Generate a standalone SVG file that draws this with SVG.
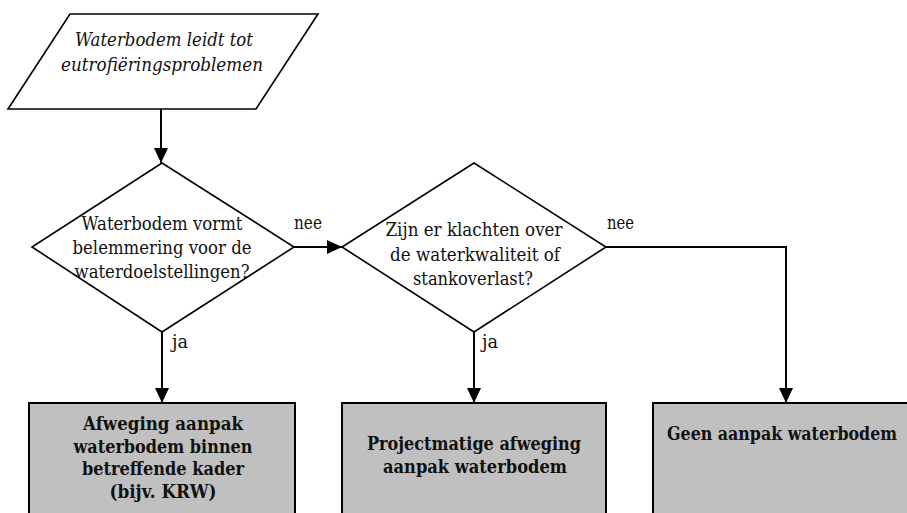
<svg xmlns="http://www.w3.org/2000/svg" width="907" height="513" viewBox="0 0 907 513">
  <style>
    .shape { fill: #ffffff; stroke: #000000; stroke-width: 1.6; }
    .box { fill: #c0c0c0; stroke: #000000; stroke-width: 2; }
    .edge { fill: none; stroke: #000000; stroke-width: 2; }
    text { font-family: "DejaVu Serif", "Liberation Serif", serif; font-size: 18px; fill: #111111; }
    .it { font-style: italic; }
    .bold { font-weight: bold; }
    .mid { text-anchor: middle; }
  </style>
  <defs>
    <marker id="arrow" markerUnits="userSpaceOnUse" markerWidth="16" markerHeight="16" refX="15" refY="7" orient="auto">
      <path d="M0,0 L15,7 L0,14 z" fill="#000000"/>
    </marker>
  </defs>

  <!-- connectors -->
  <g id="connectors">
    <line class="edge" x1="161" y1="109" x2="161" y2="163" marker-end="url(#arrow)"/>
    <line class="edge" x1="294" y1="247" x2="342" y2="247" marker-end="url(#arrow)"/>
    <line class="edge" x1="162" y1="332" x2="162" y2="403" marker-end="url(#arrow)"/>
    <line class="edge" x1="474" y1="332" x2="474" y2="403" marker-end="url(#arrow)"/>
    <polyline class="edge" points="606,247 786,247 786,403" marker-end="url(#arrow)"/>
    <text x="294" y="229" textLength="28" lengthAdjust="spacingAndGlyphs">nee</text>
    <text x="607" y="229" textLength="27" lengthAdjust="spacingAndGlyphs">nee</text>
    <text x="172" y="348" textLength="16" lengthAdjust="spacingAndGlyphs">ja</text>
    <text x="482" y="348" textLength="16" lengthAdjust="spacingAndGlyphs">ja</text>
  </g>

  <!-- start: input parallelogram -->
  <g id="start">
    <polygon class="shape" points="70,14 318,14 256,109 8,109"/>
    <text class="it mid" x="164" y="46" textLength="178" lengthAdjust="spacingAndGlyphs">Waterbodem leidt tot</text>
    <text class="it mid" x="162" y="71" textLength="202" lengthAdjust="spacingAndGlyphs">eutrofiëringsproblemen</text>
  </g>

  <!-- decision 1 -->
  <g id="decision1">
    <polygon class="shape" points="162,163 294,247 162,332 32,247"/>
    <text class="mid" x="162" y="230" textLength="161" lengthAdjust="spacingAndGlyphs">Waterbodem vormt</text>
    <text class="mid" x="162" y="254" textLength="179" lengthAdjust="spacingAndGlyphs">belemmering voor de</text>
    <text class="mid" x="162" y="278" textLength="175" lengthAdjust="spacingAndGlyphs">waterdoelstellingen?</text>
  </g>

  <!-- decision 2 -->
  <g id="decision2">
    <polygon class="shape" points="474,163 606,247 474,332 342,247"/>
    <text class="mid" x="474" y="236" textLength="177" lengthAdjust="spacingAndGlyphs">Zijn er klachten over</text>
    <text class="mid" x="475" y="261" textLength="170" lengthAdjust="spacingAndGlyphs">de waterkwaliteit of</text>
    <text class="mid" x="473" y="285" textLength="120" lengthAdjust="spacingAndGlyphs">stankoverlast?</text>
  </g>

  <!-- outcome boxes -->
  <g id="outcome1">
    <rect class="box" x="29" y="403" width="266" height="120"/>
    <text class="bold mid" x="163" y="430" textLength="160" lengthAdjust="spacingAndGlyphs">Afweging aanpak</text>
    <text class="bold mid" x="163" y="453" textLength="179" lengthAdjust="spacingAndGlyphs">waterbodem binnen</text>
    <text class="bold mid" x="163" y="475" textLength="162" lengthAdjust="spacingAndGlyphs">betreffende kader</text>
    <text class="bold mid" x="163" y="498" textLength="107" lengthAdjust="spacingAndGlyphs">(bijv. KRW)</text>
  </g>

  <g id="outcome2">
    <rect class="box" x="342" y="403" width="264" height="120"/>
    <text class="bold mid" x="474" y="450" textLength="214" lengthAdjust="spacingAndGlyphs">Projectmatige afweging</text>
    <text class="bold mid" x="475" y="473" textLength="184" lengthAdjust="spacingAndGlyphs">aanpak waterbodem</text>
  </g>

  <g id="outcome3">
    <rect class="box" x="653" y="403" width="270" height="120"/>
    <text class="bold" x="667" y="440" font-size="16.5" textLength="230" lengthAdjust="spacingAndGlyphs">Geen aanpak waterbodem</text>
  </g>
</svg>
